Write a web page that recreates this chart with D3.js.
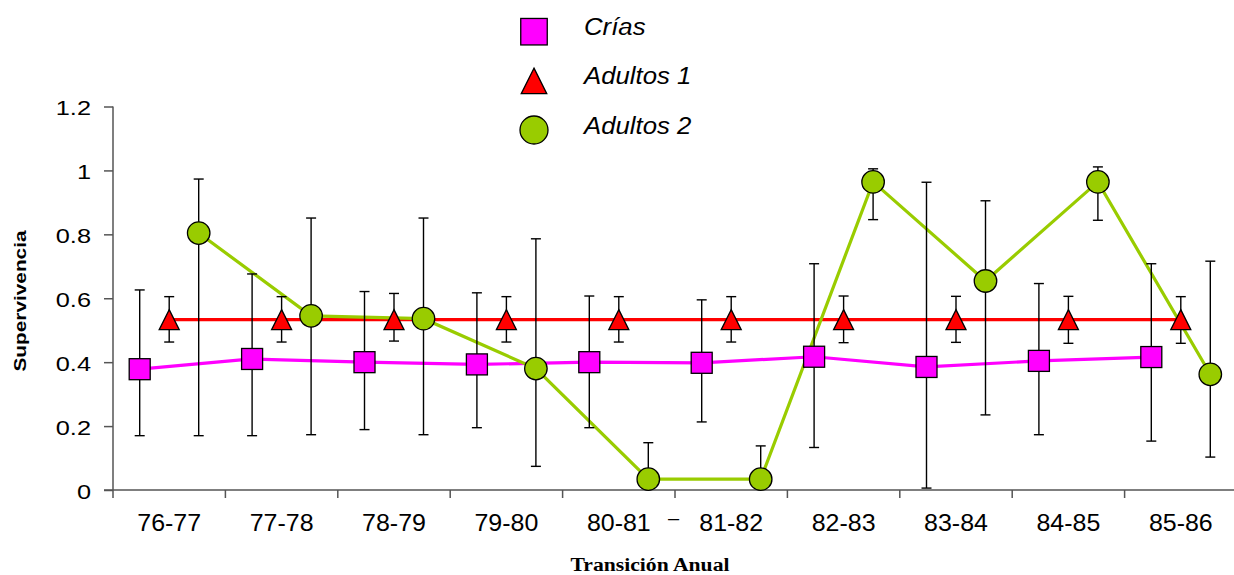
<!DOCTYPE html>
<html><head><meta charset="utf-8">
<script src="https://cdn.jsdelivr.net/npm/d3@7"></script>
<style>body{margin:0;background:#fff}svg{display:block}</style>
</head><body><svg id="c" width="1234" height="575"></svg>
<script>
const categories = ["76-77","77-78","78-79","79-80","80-81","81-82","82-83","83-84","84-85","85-86"];
const yTicks = [0,0.2,0.4,0.6,0.8,1,1.2];
const yTickLabels = ["0","0.2","0.4","0.6","0.8","1","1.2"];
const seriesNames = ["Crías","Adultos 1","Adultos 2"];
const criasVal = [0.378,0.41,0.40,0.393,0.40,0.398,0.417,0.385,0.404,0.416];
const criasHi  = [0.626,0.676,0.621,0.617,0.607,0.595,0.708,0.963,0.646,0.708];
const criasLo  = [0.17,0.17,0.189,0.195,0.195,0.213,0.133,0.006,0.173,0.153];
const ad1Val = [0.533,0.533,0.533,0.533,0.533,0.533,0.533,0.533,0.533,0.533];
const ad1Hi  = [0.605,0.605,0.615,0.605,0.605,0.605,0.607,0.606,0.606,0.605];
const ad1Lo  = [0.463,0.463,0.466,0.463,0.463,0.463,0.461,0.462,0.459,0.459];
const ad2Val = [0.804,0.545,0.536,0.38,0.034,0.034,0.964,0.654,0.964,0.362];
const ad2Hi  = [0.973,0.851,0.851,0.786,0.148,0.138,1.005,0.905,1.011,0.716];
const ad2Lo  = [0.17,0.173,0.173,0.074,0,0,0.846,0.235,0.844,0.103];
const colors = ["#FF00FF","#FF0000","#99CC00"];

const svg = d3.select("#c");
const x = d3.scaleBand().domain(categories).range([113,1237]).padding(0);
const inner = d3.scalePoint().domain(seriesNames).range([-29.5,29.5]);
const y = d3.scaleLinear().domain([0,1.2]).range([490,106.5]);

const series = [
  {name:"Crías", val:criasVal, hi:criasHi, lo:criasLo, color:colors[0], shape:"square"},
  {name:"Adultos 1", val:ad1Val, hi:ad1Hi, lo:ad1Lo, color:colors[1], shape:"triangle"},
  {name:"Adultos 2", val:ad2Val, hi:ad2Hi, lo:ad2Lo, color:colors[2], shape:"circle"}
];
const px = (s,i) => x(categories[i]) + x.bandwidth()/2 + inner(s.name);
const stretch = (sel, k) => sel.each(function(){ const w=this.getComputedTextLength(); d3.select(this).attr("textLength", w*k).attr("lengthAdjust","spacingAndGlyphs"); });

// axes
const axisColor = "#555";
const yAxis = svg.append("g").attr("transform","translate(113,0)")
  .call(d3.axisLeft(y).tickValues(yTicks).tickFormat((d,i)=>yTickLabels[i]).tickSize(9).tickPadding(13));
yAxis.select(".domain").attr("stroke",axisColor).attr("stroke-width",1.5).attr("d","M0,106.5V490");
yAxis.selectAll(".tick line").attr("stroke",axisColor).attr("stroke-width",1.5);
yAxis.selectAll("text").attr("font-family","Liberation Sans, Arial, sans-serif").attr("font-size",19.5).attr("fill","#000").attr("dy","0.42em");
stretch(yAxis.selectAll("text"), 1.3);

const xAxis = svg.append("g").attr("transform","translate(0,490)")
  .call(d3.axisBottom(x).tickSize(0).tickPadding(24));
xAxis.select(".domain").attr("stroke",axisColor).attr("stroke-width",1.5).attr("d","M104,0H1234");
xAxis.selectAll("text").attr("font-family","Liberation Sans, Arial, sans-serif").attr("font-size",24).attr("fill","#000");
stretch(xAxis.selectAll("text"), 1.04);
// tick marks at band boundaries
xAxis.selectAll(".bt").data(categories).enter().append("line")
  .attr("x1",d=>x(d)).attr("x2",d=>x(d)).attr("y1",0).attr("y2",8)
  .attr("stroke",axisColor).attr("stroke-width",1.5);
svg.append("text").attr("x",x("81-82")-1.5).attr("y",525).attr("text-anchor","middle")
  .attr("font-family","Liberation Sans, Arial, sans-serif").attr("font-size",20).text("–");

// axis titles
svg.append("text").attr("transform","translate(26,301) rotate(-90)").attr("text-anchor","middle")
  .attr("font-family","Liberation Sans, Arial, sans-serif").attr("font-weight","bold").attr("font-size",17)
  .attr("textLength",141).attr("lengthAdjust","spacingAndGlyphs").text("Supervivencia");
svg.append("text").attr("x",650).attr("y",571).attr("text-anchor","middle")
  .attr("font-family","Liberation Serif, Times New Roman, serif").attr("font-weight","bold").attr("font-size",18)
  .attr("textLength",159).attr("lengthAdjust","spacingAndGlyphs").text("Transición Anual");

// lines
series.forEach(s=>{
  const line = d3.line().x((d,i)=>px(s,i)).y(d=>y(d));
  svg.append("path").datum(s.val).attr("d",line).attr("fill","none").attr("stroke",s.color).attr("stroke-width",3.2);
});

// error bars
series.forEach(s=>{
  const g = svg.append("g").attr("stroke","#000").attr("stroke-width",1.4);
  s.val.forEach((v,i)=>{
    const cx = px(s,i);
    g.append("line").attr("x1",cx).attr("x2",cx).attr("y1",y(s.hi[i])).attr("y2",y(s.lo[i]));
    g.append("line").attr("x1",cx-5).attr("x2",cx+5).attr("y1",y(s.hi[i])).attr("y2",y(s.hi[i]));
    if (s.lo[i] > 0) g.append("line").attr("x1",cx-5).attr("x2",cx+5).attr("y1",y(s.lo[i])).attr("y2",y(s.lo[i]));
  });
});

// markers
function marker(g, shape, cx, cy, size, color){
  if (shape==="square") g.append("rect").attr("x",cx-size/2).attr("y",cy-size/2).attr("width",size).attr("height",size);
  else if (shape==="triangle") g.append("path").attr("d",`M${cx},${cy-size/2}L${cx+size/2},${cy+size/2}L${cx-size/2},${cy+size/2}Z`);
  else g.append("circle").attr("cx",cx).attr("cy",cy).attr("r",size/2);
  g.selectAll(":last-child").attr("fill",color).attr("stroke","#000").attr("stroke-width",1.3);
}
const sizes = {square:21, triangle:20, circle:22.5};
series.forEach(s=>{
  const g = svg.append("g");
  s.val.forEach((v,i)=>{
    const mg = g.append("g");
    marker(mg, s.shape, px(s,i), y(v), sizes[s.shape], s.color);
  });
});

// legend
const legSizes = {square:26.5, triangle:25.5, circle:28};
const leg = svg.append("g");
const legY = d3.scalePoint().domain(seriesNames).range([31.7,130]);
series.forEach(s=>{
  const mg = leg.append("g");
  marker(mg, s.shape, 534, legY(s.name), legSizes[s.shape], s.color);
  const t = leg.append("text").attr("x",584).attr("y",legY(s.name)+3.5).attr("font-family","Liberation Sans, Arial, sans-serif")
    .attr("font-style","italic").attr("font-size",23).text(s.name);
  stretch(t, 1.12);
});
</script></body></html>
